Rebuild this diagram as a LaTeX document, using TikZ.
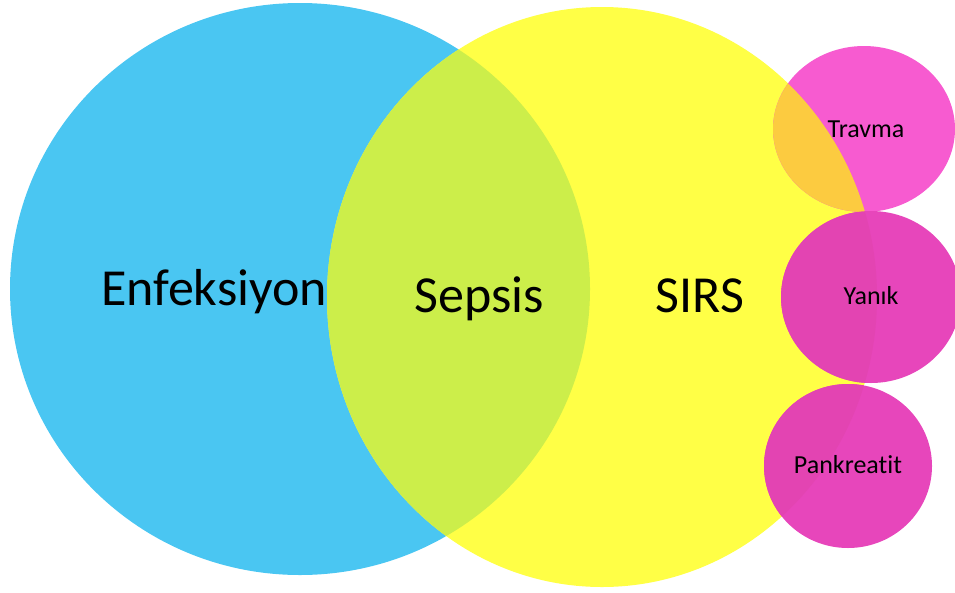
\documentclass[tikz,border=0pt]{standalone}
\usepackage{fontspec}
\setmainfont{Carlito}[Ligatures=NoCommon]
\usepackage{tikz}
\usetikzlibrary{positioning}
\usepackage{xcolor}
\definecolor{InfBlue}{RGB}{74,198,242}
\definecolor{SirsYellow}{RGB}{255,255,70}
\definecolor{SepGreen}{RGB}{204,238,74}
\definecolor{TravPink}{RGB}{247,91,208}
\definecolor{TravOrange}{RGB}{252,203,64}
\definecolor{BurnPink}{RGB}{231,70,187}
\definecolor{BurnDeep}{RGB}{227,68,178}
\tikzset{
  bigtext/.style={anchor=base, font=\fontsize{52}{60}\selectfont, text=black, inner sep=0pt},
  smalltext/.style={anchor=base, font=\fontsize{26}{30}\selectfont, text=black, inner sep=0pt}
}

\begin{document}
\begin{tikzpicture}[x=1pt, y=-1pt]
  \useasboundingbox (0,0) rectangle (955,592);

  % Main sets
  \fill[InfBlue]    (300,289) ellipse [x radius=290pt, y radius=286pt];
  \fill[SirsYellow] (602,297) ellipse [x radius=275pt, y radius=290pt];
  \begin{scope}
    \clip (300,289) ellipse [x radius=290pt, y radius=286pt];
    \fill[SepGreen] (602,297) ellipse [x radius=275pt, y radius=290pt];
  \end{scope}

  % Causes of SIRS
  \fill[TravPink] (864,129) ellipse [x radius=91pt, y radius=83pt];
  \fill[BurnPink] (871,297) ellipse [x radius=90pt, y radius=86pt];
  \fill[BurnPink] (848,466) ellipse [x radius=84pt, y radius=82pt];
  \begin{scope}
    \clip (602,297) ellipse [x radius=275pt, y radius=290pt];
    \fill[TravOrange] (864,129) ellipse [x radius=91pt, y radius=83pt];
    \fill[BurnDeep]   (871,297) ellipse [x radius=90pt, y radius=86pt];
    \fill[BurnDeep]   (848,466) ellipse [x radius=84pt, y radius=82pt];
  \end{scope}

  % Labels
  \node[bigtext] (enf)  at (214,305) {Enfeksiyon};
  \node[bigtext] (sep)  at (479,312) {Sepsis};
  \node[bigtext] (sirs) at (700,312) {SIRS};
  \node[smalltext] (trv) at (866,137) {Travma};
  \node[smalltext] (yan) at (871,304) {Yanık};
  \node[smalltext] (pan) at (848,473) {Pankreatit};

\end{tikzpicture}
\end{document}
